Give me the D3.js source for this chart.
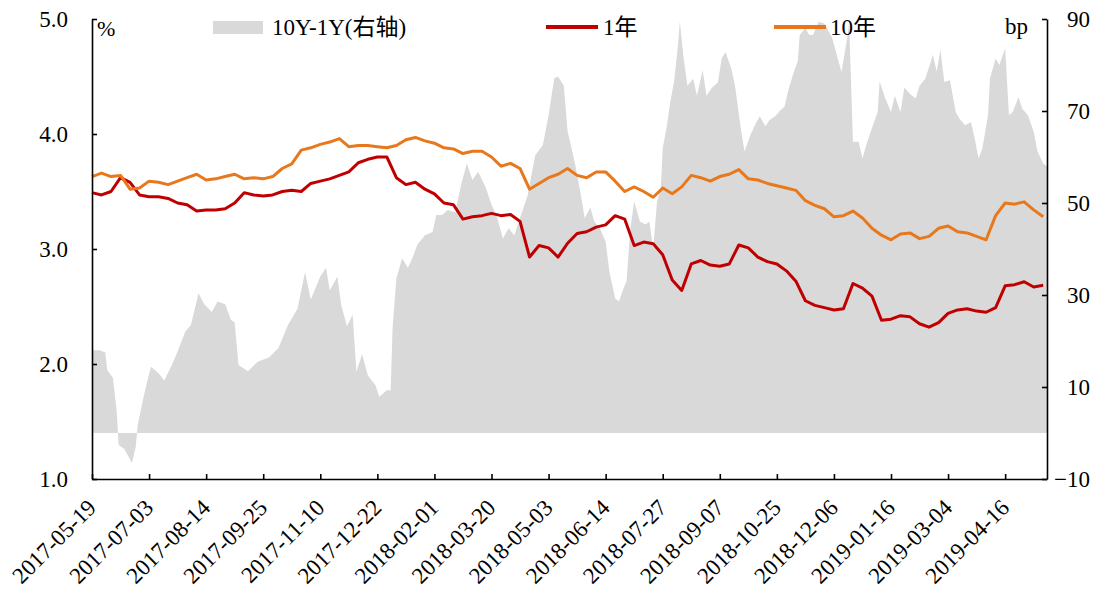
<!DOCTYPE html>
<html><head><meta charset="utf-8">
<script src="https://cdn.jsdelivr.net/npm/d3@7"></script>
<style>
body{margin:0;background:#fff;}
svg text{font-family:"Liberation Serif","Times New Roman","Noto Sans CJK SC",serif;fill:#000;}
</style>
</head><body>
<svg id="c" width="1107" height="589"></svg>
<script>
// trading-day spacing between yield samples
const sampleStep = 5;
const tickEvery = 30;
const tickLabels = ["2017-05-19","2017-07-03","2017-08-14","2017-09-25","2017-11-10","2017-12-22",
  "2018-02-01","2018-03-20","2018-05-03","2018-06-14","2018-07-27","2018-09-07","2018-10-25",
  "2018-12-06","2019-01-16","2019-03-04","2019-04-16"];
const leftTicks = [1,2,3,4,5];
const rightTicks = [-10,10,30,50,70,90];
const seriesNames = ["10Y-1Y(右轴)","1年","10年"];

const yield10Y = [3.63,3.66,3.63,3.64,3.52,3.53,3.59,3.58,3.56,3.59,
 3.62,3.65,3.60,3.61,3.63,3.65,3.61,3.62,3.61,3.63,
 3.70,3.74,3.86,3.88,3.91,3.93,3.96,3.89,3.90,3.90,
 3.89,3.88,3.90,3.95,3.97,3.94,3.92,3.88,3.87,3.83,
 3.85,3.85,3.80,3.72,3.745,3.70,3.52,3.57,3.62,3.65,
 3.70,3.64,3.62,3.67,3.67,3.59,3.50,3.54,3.50,3.45,
 3.53,3.48,3.54,3.64,3.62,3.59,3.63,3.65,3.69,3.61,
 3.60,3.57,3.55,3.53,3.51,3.42,3.38,3.35,3.28,3.29,
 3.33,3.27,3.18,3.12,3.08,3.13,3.14,3.09,3.11,3.18,
 3.20,3.15,3.14,3.11,3.08,3.29,3.40,3.39,3.41,3.34,
 3.28];

const yield1Y = [3.49,3.47,3.50,3.62,3.58,3.47,3.455,3.455,3.44,3.40,
 3.385,3.33,3.34,3.34,3.35,3.40,3.49,3.47,3.46,3.47,
 3.50,3.51,3.50,3.57,3.59,3.61,3.64,3.67,3.75,3.78,
 3.80,3.80,3.62,3.56,3.58,3.52,3.48,3.40,3.385,3.26,
 3.28,3.29,3.31,3.29,3.30,3.24,2.93,3.03,3.01,2.93,
 3.05,3.135,3.15,3.19,3.21,3.29,3.26,3.03,3.06,3.045,
 2.95,2.73,2.64,2.87,2.90,2.86,2.85,2.87,3.035,3.01,
 2.93,2.89,2.87,2.81,2.72,2.55,2.51,2.49,2.47,2.48,
 2.70,2.66,2.59,2.38,2.39,2.42,2.41,2.35,2.32,2.36,
 2.44,2.47,2.48,2.46,2.45,2.49,2.68,2.69,2.715,2.67,
 2.685];

// 10Y-1Y spread (bp), sampled at these trading-day indices
const spreadDays = [0,4,7,8,11,13,14,17,19,21,23,24,27,29,31,35,38,42,45,49,
 52,56,59,63,66,70,73,75,77,82,87,93,98,103,108,112,115,120,123,125,
 129,131,134,137,139,142,145,149,151,155,157,158,160,163,166,168,171,175,179,181,
 184,187,191,194,197,200,203,207,210,213,216,219,222,226,229,233,237,240,243,245,
 248,250,252,254,257,259,262,264,267,270,272,275,277,279,281,283,285,288,291,293,
 295,297,299,300,302,304,306,308,309,311,313,316,318,321,323,326,329,331,333,336,
 338,341,343,346,349,351,354,356,359,362,364,366,369,371,372,375,377,379,382,385,
 389,392,394,397,398,400,403,405,407,410,413,414,417,420,422,425,427,430,433,435,
 438,441,442,444,446,448,451,454,456,459,462,464,466,468,471,472,475,477,480,482,
 484,487,489,492,495,497,500,502];
const spreadBp = [18,18,17.5,13.7,12,4.6,-2.6,-3.5,-5,-6.5,-3,1.7,7.6,11.2,14.4,13,11.4,14.8,17.7,22,
 23.5,30.4,28,26.3,28.6,28,24.6,24,14.8,13.4,15.5,16.4,18.5,23.5,27,35,29,34,35.9,31,
 34,27.8,23.2,25.7,13.3,17.2,12.5,10.4,7.9,9.3,9.3,22.8,33.6,38,35.9,37.6,40.9,43,43.7,47.4,
 47.4,48.5,48,53.9,58.6,55,56.8,53.3,49.7,46.8,42.3,44.5,43,48,51.7,60.4,62.6,69.1,77.1,77.5,
 75.5,65.6,62,58.3,51.7,46.7,49,46,44.5,41.6,35,29.3,28.6,31,33,44.5,50.3,46,45.3,46,
 40,50.3,53.2,61.9,66.3,72,76.4,84.3,89.4,81.4,75.5,77,73.3,78.9,73.3,75.1,76.2,81.4,82.8,79.3,
 75.5,66.3,61.2,64.7,67.4,68.8,66.7,68,68.8,70.2,70.9,74.5,78.6,80.8,86.5,88,86.5,86.5,89.4,89,
 86,81.4,78.5,86,89,63.3,63.3,59.7,62.6,66.3,69.8,76.4,72.7,69.8,73.3,69.8,75.1,73.7,72.7,75.5,
 77,80.8,82.3,78.6,83.3,76.3,76.7,69.8,68.3,66.9,67.6,64,59.7,61.8,69.1,77,81.4,80,83.7,69.1,
 69.8,73,70.5,69.1,65.5,61.2,58.6,58];

const colors = {spread:"#d9d9d9", y1:"#c00000", y10:"#e8781c"};
const fs = 23;

const svg = d3.select("#c");
const x = d3.scaleLinear().domain([0, 502]).range([92, 1047]);
const yL = d3.scaleLinear().domain([1,5]).range([479,19]);
const yR = d3.scaleLinear().domain([-10,90]).range([479,19]);
const xi = (d,i) => x(i*sampleStep);

// spread area
svg.append("path").datum(spreadBp)
  .attr("fill", colors.spread)
  .attr("d", d3.area().x((d,i)=>x(spreadDays[i])).y0(yR(0)).y1(d=>yR(d)));

const line = (scale) => d3.line().x(xi).y(d=>scale(d));
svg.append("path").datum(yield1Y).attr("fill","none").attr("stroke",colors.y1)
  .attr("stroke-width",3).attr("stroke-linejoin","round").attr("d", line(yL));
svg.append("path").datum(yield10Y).attr("fill","none").attr("stroke",colors.y10)
  .attr("stroke-width",3).attr("stroke-linejoin","round").attr("d", line(yL));

// axes
const gL = svg.append("g").attr("transform","translate(92,0)")
  .call(d3.axisLeft(yL).tickValues(leftTicks).tickFormat(d3.format(".1f")).tickSize(-5).tickSizeOuter(0).tickPadding(24));
const gR = svg.append("g").attr("transform","translate(1047,0)")
  .call(d3.axisRight(yR).tickValues(rightTicks).tickFormat(d3.format("d")).tickSize(-5).tickSizeOuter(0).tickPadding(43));
gR.selectAll(".tick text").attr("text-anchor","end");
const gB = svg.append("g").attr("transform","translate(0,479)")
  .call(d3.axisBottom(x).tickValues(d3.range(0, tickLabels.length*tickEvery, tickEvery))
    .tickFormat((d,i)=>tickLabels[i]).tickSize(-5).tickSizeOuter(0));
gB.selectAll(".tick text").attr("x",0).attr("y",0).attr("dy",null)
  .attr("text-anchor","end").attr("transform","translate(5,30) rotate(-45)");
[gL,gR,gB].forEach(g=>{
  g.selectAll("text").attr("font-size",fs).attr("font-family",null);
  g.selectAll("path,line").attr("stroke","#000").attr("stroke-width",1.6);
  g.attr("font-family",null);
});

// unit labels
svg.append("text").attr("x",97).attr("y",36).attr("font-size",fs-1).text("%");
svg.append("text").attr("x",1028).attr("y",34).attr("text-anchor","end").attr("font-size",fs).text("bp");

// legend
const lg = svg.append("g");
lg.append("rect").attr("x",213).attr("y",21).attr("width",50).attr("height",13).attr("fill",colors.spread);
lg.append("text").attr("x",272).attr("y",35).attr("font-size",fs).text(seriesNames[0]);
lg.append("line").attr("x1",546).attr("x2",598).attr("y1",27).attr("y2",27).attr("stroke",colors.y1).attr("stroke-width",4);
lg.append("text").attr("x",603).attr("y",35).attr("font-size",fs).text(seriesNames[1]);
lg.append("line").attr("x1",774).attr("x2",826).attr("y1",27).attr("y2",27).attr("stroke",colors.y10).attr("stroke-width",4);
lg.append("text").attr("x",830).attr("y",35).attr("font-size",fs).text(seriesNames[2]);
</script>
</body></html>
